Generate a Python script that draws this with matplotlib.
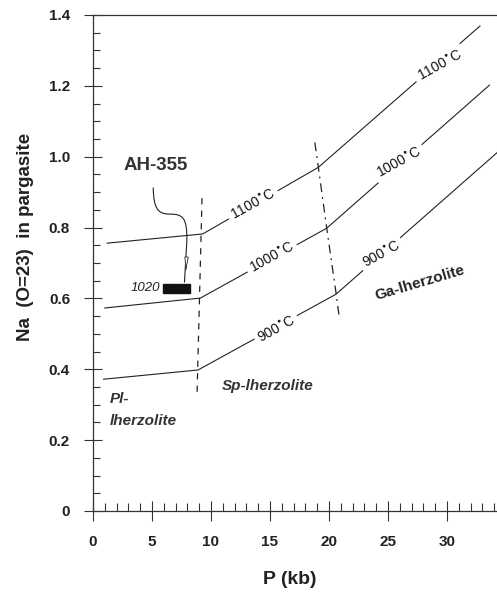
import matplotlib
matplotlib.use("Agg")
import matplotlib.pyplot as plt
from matplotlib.path import Path
from matplotlib.patches import PathPatch, Rectangle
from matplotlib.ticker import MultipleLocator

plt.rcParams['font.family'] = ['Liberation Sans', 'DejaVu Sans']

# ---- data ----
P_1100 = [1.2, 9.3, 19.1, 32.8]
Na_1100 = [0.756, 0.782, 0.970, 1.369]
P_1000 = [1.0, 9.1, 19.8, 33.6]
Na_1000 = [0.573, 0.601, 0.798, 1.202]
P_900 = [0.9, 8.9, 20.6, 34.4]
Na_900 = [0.372, 0.398, 0.612, 1.016]

PlSp_P = [9.24, 8.81]
PlSp_Na = [0.883, 0.319]
SpGa_P = [18.8, 19.1, 19.8, 20.6, 20.9]
SpGa_Na = [1.04, 0.97, 0.80, 0.615, 0.54]

temp_labels = ["1100", "1100", "1000", "1000", "900", "900"]
temp_label_P = [13.56, 29.4, 15.17, 26.0, 15.6, 24.5]
temp_label_Na = [0.866, 1.256, 0.714, 0.982, 0.511, 0.723]

sample_P = [5.93, 8.22]
sample_Na = [0.616, 0.641]
sample_T = "1020"
sample_name = "AH-355"

x_ticks = [0, 5, 10, 15, 20, 25, 30]
y_ticks = [0, 0.2, 0.4, 0.6, 0.8, 1.0, 1.2, 1.4]
y_ticklabels = ["0", "0.2", "0.4", "0.6", "0.8", "1.0", "1.2", "1.4"]

# ---- figure ----
fig = plt.figure(figsize=(4.97, 5.97), dpi=100)
ax = fig.add_axes([93/497, 86/597, 1 - 93/497, (511 - 15)/597])
ax.set_xlim(0, 34.24)
ax.set_ylim(0, 1.4)

lc = '#222222'
for P, Na in [(P_1100, Na_1100), (P_1000, Na_1000), (P_900, Na_900)]:
    ax.plot(P, Na, color=lc, lw=0.8, zorder=2, clip_on=True)

ax.plot(PlSp_P, PlSp_Na, color=lc, lw=0.9, linestyle=(0, (5, 5)), zorder=2)
ax.plot(SpGa_P, SpGa_Na, color=lc, lw=0.9, linestyle=(0, (7, 4, 1.5, 4)), zorder=2)

for t, x, y in zip(temp_labels, temp_label_P, temp_label_Na):
    ax.text(x, y, t + r"$^{\bullet}$C", fontsize=10, rotation=29,
            rotation_mode='anchor', ha='center', va='center', color='#111111',
            zorder=4,
            bbox=dict(boxstyle='square,pad=0.25', fc='white', ec='none'))

# sample box
ax.add_patch(Rectangle((sample_P[0], sample_Na[0]), sample_P[1] - sample_P[0],
                       sample_Na[1] - sample_Na[0], fc='#111111', ec='#111111',
                       zorder=5))
ax.text(sample_P[0] - 0.25, (sample_Na[0] + sample_Na[1]) / 2, sample_T,
        fontsize=9.5, style='italic', ha='right', va='center', color='#222222')
ax.text(5.34, 0.974, sample_name, fontsize=13.5, fontweight='bold',
        ha='center', va='center', color='#333333')

# curvy leader line
verts = [(5.10, 0.913),
         (5.15, 0.855), (5.45, 0.838), (6.5, 0.838),
         (7.6, 0.838), (8.0, 0.83), (7.95, 0.76),
         (7.75, 0.645)]
codes = [Path.MOVETO, Path.CURVE4, Path.CURVE4, Path.CURVE4,
         Path.CURVE4, Path.CURVE4, Path.CURVE4, Path.LINETO]
ax.add_patch(PathPatch(Path(verts, codes), fc='none', ec=lc, lw=0.8, zorder=3))
ax.annotate("", xy=(7.84, 0.665), xytext=(7.92, 0.71),
            arrowprops=dict(arrowstyle='-|>,head_length=0.9,head_width=0.12',
                            fc='white', ec=lc, lw=0.6), zorder=3)

# field labels
ax.text(1.44, 0.305, "Pl-", fontsize=11, fontweight='bold', style='italic',
        ha='left', va='baseline', color='#333333')
ax.text(1.44, 0.243, "lherzolite", fontsize=11, fontweight='bold', style='italic',
        ha='left', va='baseline', color='#333333')
ax.text(10.93, 0.3415, "Sp-lherzolite", fontsize=11, fontweight='bold',
        style='italic', ha='left', va='baseline', color='#333333')
ax.text(27.7, 0.644, "Ga-lherzolite", fontsize=11, fontweight='bold',
        rotation=16.5, rotation_mode='anchor', ha='center', va='center',
        color='#222222')

# axes styling
ax.spines['right'].set_visible(False)
for s in ['left', 'bottom', 'top']:
    ax.spines[s].set_color('#333333')
    ax.spines[s].set_linewidth(0.9)

ax.set_xticks(x_ticks)
ax.set_xticklabels([str(v) for v in x_ticks])
ax.set_yticks(y_ticks)
ax.set_yticklabels(y_ticklabels)
ax.xaxis.set_minor_locator(MultipleLocator(1))
ax.yaxis.set_minor_locator(MultipleLocator(0.05))

ax.tick_params(axis='y', which='major', direction='inout', length=13, width=0.8,
               color='#333333', pad=10, labelsize=11)
ax.tick_params(axis='y', which='minor', direction='in', length=5, width=0.8,
               color='#333333')
ax.tick_params(axis='x', which='major', direction='inout', length=14.5, width=0.8,
               color='#333333', pad=10, labelsize=11)
ax.tick_params(axis='x', which='minor', direction='in', length=5.5, width=0.8,
               color='#333333')
for lab in ax.get_xticklabels() + ax.get_yticklabels():
    lab.set_fontweight('bold')
    lab.set_color('#222222')

ax.set_xlabel("P (kb)", fontsize=14, fontweight='bold', color='#222222')
ax.set_ylabel("Na  (O=23)  in pargasite", fontsize=13.5, fontweight='bold',
              color='#222222')
ax.xaxis.set_label_coords((290 - 93) / 404, -(571 - 511) / 496)
ax.yaxis.set_label_coords(-(93 - 34) / 404, (511 - 237) / 496)

fig.savefig("out.png", dpi=100)
